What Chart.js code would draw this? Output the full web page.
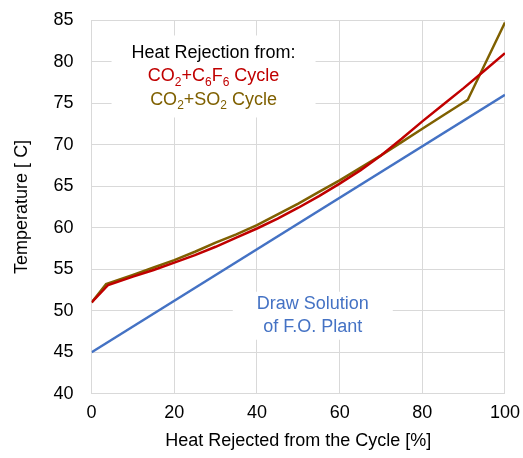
<!DOCTYPE html>
<html lang="en">
  <head>
    <meta charset="UTF-8" />
    <title>Heat Rejection vs Temperature</title>
    <script src="https://cdn.jsdelivr.net/npm/chart.js"></script>
    <style>
      body { margin: 0; background: #fff; }
      #wrap { width: 523px; height: 458px; }
    </style>
  </head>
  <body>
    <div id="wrap"><canvas id="tempChart" width="523" height="458"></canvas></div>
    <script>
      // data
      var c6f6Pct = [0, 4, 10, 15, 20, 25, 30, 35, 40, 45, 50, 55, 60, 65, 70, 75, 80, 85, 90, 95, 100];
      var c6f6Temp = [51, 53.1, 54.1, 54.9, 55.8, 56.7, 57.7, 58.8, 59.9, 61.1, 62.4, 63.8, 65.3, 66.9, 68.7, 70.7, 72.8, 74.8, 76.8, 78.9, 81.0];
      var so2Pct = [0, 3.5, 10, 15, 20, 25, 30, 35, 40, 45, 50, 55, 60, 65, 70, 75, 80, 85, 91, 100];
      var so2Temp = [51, 53.2, 54.3, 55.2, 56.1, 57.1, 58.2, 59.2, 60.3, 61.6, 62.9, 64.3, 65.7, 67.2, 68.7, 70.3, 71.9, 73.5, 75.4, 84.7];
      var drawPct = [0, 100];
      var drawTemp = [45, 76];
      var xTicks = [0, 20, 40, 60, 80, 100];
      var yTicks = [40, 45, 50, 55, 60, 65, 70, 75, 80, 85];

      function toPoints(xs, ys) {
        return xs.map(function (x, i) { return { x: x, y: ys[i] }; });
      }

      var FONT = "'Liberation Sans', Arial, sans-serif";

      // text boxes inside the plot (white background hides the grid)
      var notes = [
        { x: 29.5, y: 78.2, w: 204, h: 82, lines: [
          { t: [["Heat Rejection from:", 0]], c: "#000000" },
          { t: [["CO", 0], ["2", 1], ["+C", 0], ["6", 1], ["F", 0], ["6", 1], [" Cycle", 0]], c: "#C00000" },
          { t: [["CO", 0], ["2", 1], ["+SO", 0], ["2", 1], [" Cycle", 0]], c: "#7F6000" }
        ] },
        { x: 53.5, y: 49.4, w: 160, h: 48, lines: [
          { t: [["Draw Solution", 0]], c: "#4472C4" },
          { t: [["of F.O. Plant", 0]], c: "#4472C4" }
        ] }
      ];

      var notePlugin = {
        id: "notes",
        beforeDatasetsDraw: function (chart) {
          var ctx = chart.ctx;
          var xs = chart.scales.x, ys = chart.scales.y;
          ctx.save();
          notes.forEach(function (n) {
            var cx = xs.getPixelForValue(n.x);
            var cy = ys.getPixelForValue(n.y);
            ctx.fillStyle = "#ffffff";
            ctx.fillRect(cx - n.w / 2, cy - n.h / 2, n.w, n.h);
            var lh = 23.5;
            var y0 = cy - (n.lines.length - 1) * lh / 2;
            n.lines.forEach(function (ln, i) {
              var parts = ln.t.map(function (p) {
                ctx.font = (p[1] ? "12px " : "18px ") + FONT;
                return { s: p[0], sub: p[1], w: ctx.measureText(p[0]).width };
              });
              var total = parts.reduce(function (a, p) { return a + p.w; }, 0);
              var px = cx - total / 2;
              var py = y0 + i * lh;
              ctx.fillStyle = ln.c;
              ctx.textBaseline = "middle";
              ctx.textAlign = "left";
              parts.forEach(function (p) {
                ctx.font = (p.sub ? "12px " : "18px ") + FONT;
                ctx.fillText(p.s, px, p.sub ? py + 6 : py);
                px += p.w;
              });
            });
          });
          ctx.restore();
        }
      };

      var grid = "#d9d9d9";

      new Chart(document.getElementById("tempChart").getContext("2d"), {
        type: "line",
        data: {
          datasets: [
            {
              label: "Draw Solution",
              data: toPoints(drawPct, drawTemp),
              borderColor: "#4472C4",
              borderWidth: 2.5,
              pointRadius: 0,
              tension: 0
            },
            {
              label: "CO2+C6F6",
              data: toPoints(c6f6Pct, c6f6Temp),
              borderColor: "#C00000",
              borderWidth: 2.5,
              pointRadius: 0,
              tension: 0
            },
            {
              label: "CO2+SO2",
              data: toPoints(so2Pct, so2Temp),
              borderColor: "#7F6000",
              borderWidth: 2.5,
              pointRadius: 0,
              tension: 0
            }
          ]
        },
        options: {
          responsive: false,
          animation: false,
          layout: { autoPadding: false, padding: { top: 20, right: 18, left: 7, bottom: 4 } },
          plugins: { legend: { display: false }, tooltip: { enabled: false } },
          scales: {
            x: {
              type: "linear",
              min: xTicks[0],
              max: xTicks[xTicks.length - 1],
              grid: { color: grid, lineWidth: 1, tickLength: 5, tickColor: "rgba(0,0,0,0)" },
              border: { color: grid },
              ticks: { stepSize: xTicks[1] - xTicks[0], color: "#000", font: { family: FONT, size: 18 }, padding: 3 },
              title: { display: true, text: "Heat Rejected from the Cycle [%]", color: "#000", font: { family: FONT, size: 18 }, padding: { top: 4, bottom: 2 } }
            },
            y: {
              min: yTicks[0],
              max: yTicks[yTicks.length - 1],
              grid: { color: grid, lineWidth: 1, tickLength: 15, tickColor: "rgba(0,0,0,0)" },
              border: { color: grid },
              ticks: { stepSize: yTicks[1] - yTicks[0], color: "#000", font: { family: FONT, size: 18 }, padding: 3 },
              title: { display: true, text: "Temperature [ C]", color: "#000", font: { family: FONT, size: 18 }, padding: { top: 4, bottom: 18 } }
            }
          }
        },
        plugins: [notePlugin]
      });
    </script>
  </body>
</html>
